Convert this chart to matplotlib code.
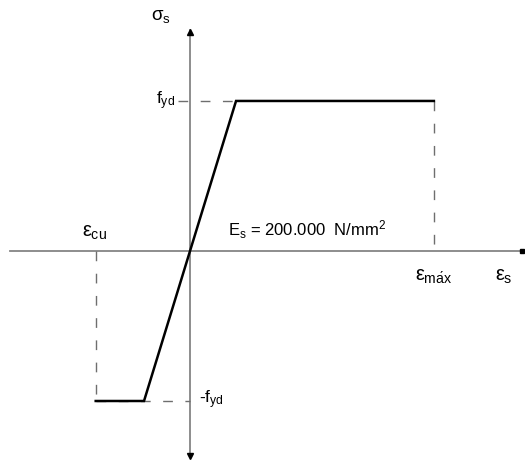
import numpy as np
import matplotlib
matplotlib.use('Agg')
import matplotlib.pyplot as plt

plt.rcParams['font.family'] = ['Liberation Sans', 'DejaVu Sans']
plt.rcParams['mathtext.fontset'] = 'custom'
plt.rcParams['mathtext.rm'] = 'Liberation Sans'
plt.rcParams['mathtext.it'] = 'Liberation Sans'
plt.rcParams['mathtext.bf'] = 'Liberation Sans:bold'

# Idealised steel stress-strain diagram (normalised units)
strain = [-2.05, -1.0, 1.0, 5.3]   # eps_cu, -eps_yd, eps_yd, eps_max
stress = [-1.0, -1.0, 1.0, 1.0]    # -fyd, -fyd, fyd, fyd
eps_cu = strain[0]
eps_yd = strain[2]
eps_max = strain[3]
fyd = stress[2]

axis_color = '#858585'
dash_color = '#6e6e6e'

fig = plt.figure(figsize=(5.25, 4.61), dpi=100)
ax = fig.add_axes([0, 0, 1, 1])
ax.set_xlim(-4.13, 7.28)
ax.set_ylim(-1.4, 1.673)
ax.axis('off')

# axes lines with arrow heads
ax.plot([-3.91, 7.2], [0, 0], color=axis_color, lw=1.3)
ax.plot([0, 0], [-1.37, 1.47], color=axis_color, lw=1.3)
ax.plot(7.22, 0, marker='s', color='black', markersize=3)
ax.plot(0, 1.46, marker='^', color='black', markersize=4)
ax.plot(0, -1.37, marker='v', color='black', markersize=4)

# dashed guide lines
dash = dict(color=dash_color, lw=1.0, linestyle=(0, (7, 9)))
ax.plot([-0.26, eps_yd], [fyd, fyd], **dash)
ax.plot([eps_max, eps_max], [fyd, 0], **dash)
ax.plot([eps_cu, 0.0], [-fyd, -fyd], **dash)
ax.plot([eps_cu, eps_cu], [0, -fyd], **dash)

# stress-strain curve
ax.plot(strain, stress, color='black', lw=1.8, solid_joinstyle='miter')

fs = 12.5
ax.text(-0.84, 1.56, r'$\sigma_{\mathrm{s}}$', fontsize=fs + 1, ha='left', va='center')
ax.text(-0.74, 1.0, r'f$_{\mathrm{yd}}$', fontsize=fs, ha='left', va='center')
ax.text(0.2, -0.99, r'-f$_{\mathrm{yd}}$', fontsize=fs, ha='left', va='center')
ax.text(-2.34, 0.12, r'$\varepsilon_{\mathrm{cu}}$', fontsize=fs + 2, ha='left', va='center')
ax.text(0.82, 0.14, r'E$_{\mathrm{s}}$ = 200.000  N/mm$^{2}$', fontsize=12, ha='left', va='center')
ax.text(4.88, -0.17, r'$\varepsilon_{\mathrm{m\acute{a}x}}$', fontsize=fs + 2, ha='left', va='center')
ax.text(6.63, -0.17, r'$\varepsilon_{\mathrm{s}}$', fontsize=fs + 2, ha='left', va='center')

fig.savefig('out.png', dpi=100)
